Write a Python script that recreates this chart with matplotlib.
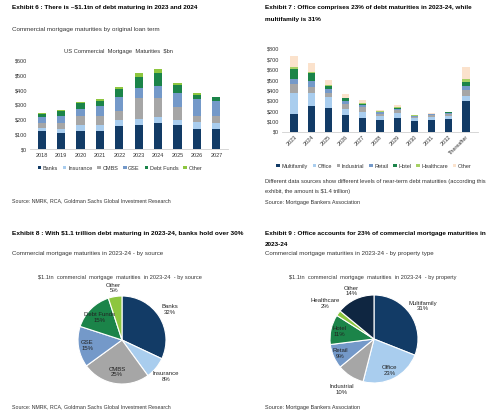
import matplotlib
matplotlib.use('Agg')
import matplotlib.pyplot as plt
import numpy as np
from matplotlib import font_manager

W, H = 500, 416
fig = plt.figure(figsize=(W/100, H/100), dpi=100)
fig.patch.set_facecolor('white')

avail = {f.name for f in font_manager.fontManager.ttflist}
NARROW = ['Liberation Sans Narrow', 'Liberation Sans', 'DejaVu Sans'] if 'Liberation Sans Narrow' in avail else ['Liberation Sans', 'DejaVu Sans']
ARIAL = ['Liberation Sans', 'DejaVu Sans']
plt.rcParams['font.family'] = ARIAL

# ---------------- data ----------------
years6 = ['2018', '2019', '2020', '2021', '2022', '2023', '2024', '2025', '2026', '2027']
banks = [120, 108, 120, 120, 154, 163, 174, 163, 138, 138]
insurance = [25, 29, 45, 45, 45, 41, 45, 34, 43, 38]
cmbs = [30, 38, 57, 63, 61, 142, 127, 86, 41, 50]
gse = [42, 52, 49, 62, 93, 73, 86, 97, 117, 102]
debt_funds = [22, 33, 46, 40, 54, 74, 88, 57, 30, 25]
other6 = [9, 5, 6, 9, 18, 25, 23, 13, 11, 4]
src_names = ['Banks', 'Insurance', 'CMBS', 'GSE', 'Debt Funds', 'Other']
yticks6 = [0, 100, 200, 300, 400, 500, 600]

years7 = ['2023', '2024', '2025', '2026', '2027', '2028', '2029', '2030', '2031', '2032', 'Thereafter']
multifamily = [172, 252, 227, 166, 131, 112, 137, 105, 112, 125, 294]
office = [202, 122, 108, 54, 64, 38, 45, 26, 32, 28, 57]
industrial = [86, 57, 39, 48, 45, 23, 26, 16, 16, 19, 55]
retail = [48, 61, 38, 26, 22, 15, 12, 6, 9, 10, 38]
hotel = [99, 73, 35, 29, 10, 7, 7, 4, 3, 6, 35]
healthcare = [16, 13, 7, 9, 9, 3, 13, 3, 4, 4, 29]
other7 = [112, 83, 48, 32, 29, 13, 19, 3, 3, 3, 121]
prop_names = ['Multifamily', 'Office', 'Industrial', 'Retail', 'Hotel', 'Healthcare', 'Other']
yticks7 = [0, 100, 200, 300, 400, 500, 600, 700, 800]

src_share = [32, 8, 25, 15, 15, 5]
prop_share = [31, 23, 10, 9, 11, 2, 14]

# ---------------- colours ----------------
NAVY = '#123b66'
LBLUE = '#a9cdee'
GRAY = '#a6a6a6'
MBLUE = '#7499c9'
GREEN = '#1b8449'
LGREEN = '#8dc63f'
HC = '#a6d064'
PEACH = '#fbe2cc'
DNAVY = '#0f2641'
TXT = '#333333'

cols6 = [NAVY, LBLUE, GRAY, MBLUE, GREEN, LGREEN]
cols7 = [NAVY, LBLUE, GRAY, MBLUE, GREEN, HC, PEACH]
pie_cols8 = [NAVY, LBLUE, GRAY, MBLUE, GREEN, LGREEN]
pie_cols9 = [NAVY, LBLUE, GRAY, MBLUE, GREEN, LGREEN, DNAVY]


def ftext(x, y, s, target_w=None, size=5, family=NARROW, **kw):
    kw.setdefault('va', 'center')
    kw.setdefault('color', TXT)
    t = fig.text(x / W, 1 - y / H, s, fontsize=size, family=family, **kw)
    if target_w:
        r = fig.canvas.get_renderer()
        w = t.get_window_extent(r).width
        t.set_fontsize(size * target_w / w)
    return t


def axes_px(left, top, right, bottom):
    return fig.add_axes([left / W, 1 - bottom / H, (right - left) / W, (bottom - top) / H])


def style_bar_axes(ax):
    for s in ['top', 'right', 'left']:
        ax.spines[s].set_visible(False)
    ax.spines['bottom'].set_color('#d0d0d0')
    ax.spines['bottom'].set_linewidth(0.6)
    ax.tick_params(axis='both', length=0, labelsize=4, colors=TXT, pad=2)
    ax.set_facecolor('none')


# ================= Exhibit 6 =================
ftext(12, 8, 'Exhibit 6 : There is ~$1.1tn of debt maturing in 2023 and 2024', 190, weight='bold', color='black')
ftext(12, 29, 'Commercial mortgage maturities by original loan term', 150)
ftext(118, 51, 'US Commercial  Mortgage  Maturities  $bn', 110, family=ARIAL, ha='center')

ax6 = axes_px(30, 61, 228, 149)
x6 = np.arange(len(years6))
series6 = [banks, insurance, cmbs, gse, debt_funds, other6]
bottom = np.zeros(len(years6))
handles6 = []
for vals, c, n in zip(series6, cols6, src_names):
    b = ax6.bar(x6, vals, 0.42, bottom=bottom, color=c, label=n)
    bottom += np.array(vals)
    handles6.append(b)
ax6.set_xlim(-0.6, len(years6) - 0.4)
ax6.set_ylim(0, 600)
ax6.set_yticks(yticks6)
ax6.set_yticklabels([f'${v}' for v in yticks6])
ax6.set_xticks(x6)
ax6.set_xticklabels(years6)
style_bar_axes(ax6)
ax6.tick_params(axis='x', pad=3)
leg6 = ax6.legend(handles6, src_names, loc='center', bbox_to_anchor=((120 - 30) / 198, -(168 - 149) / 88),
                  ncol=6, frameon=False, fontsize=4, handlelength=0.6, handleheight=0.6,
                  handletextpad=0.3, columnspacing=0.9, borderpad=0)
for t in leg6.get_texts():
    t.set_color(TXT)

ftext(12, 201, 'Source: NMRK, RCA, Goldman Sachs Global Investment Research', 161)

# ================= Exhibit 7 =================
t7a = ftext(265, 8, 'Exhibit 7 : Office comprises 23% of debt maturities in 2023-24, while', 211, weight='bold', color='black')
ftext(265, 19, 'multifamily is 31%', None, size=t7a.get_fontsize(), weight='bold', color='black')

ax7 = axes_px(282, 49, 478, 132)
x7 = np.arange(len(years7))
series7 = [multifamily, office, industrial, retail, hotel, healthcare, other7]
bottom = np.zeros(len(years7))
handles7 = []
for vals, c, n in zip(series7, cols7, prop_names):
    b = ax7.bar(x7, vals, 0.42, bottom=bottom, color=c, label=n)
    bottom += np.array(vals)
    handles7.append(b)
ax7.set_xlim(-0.7, len(years7) - 0.3)
ax7.set_ylim(0, 800)
ax7.set_yticks(yticks7)
ax7.set_yticklabels([f'${v}' for v in yticks7])
ax7.set_xticks(x7)
ax7.set_xticklabels(years7, rotation=45, ha='right', rotation_mode='anchor')
style_bar_axes(ax7)
ax7.tick_params(axis='x', pad=2)
leg7 = ax7.legend(handles7, prop_names, loc='center', bbox_to_anchor=((374 - 282) / 196, -(166 - 132) / 83),
                  ncol=7, frameon=False, fontsize=4, handlelength=0.6, handleheight=0.6,
                  handletextpad=0.3, columnspacing=0.9, borderpad=0)
for t in leg7.get_texts():
    t.set_color(TXT)

t7n = ftext(265, 182, 'Different data sources show different levels of near-term debt maturities (according this', 224)
ftext(265, 191, 'exhibit, the amount is $1.4 trillion)', None, size=t7n.get_fontsize())
ftext(265, 203, 'Source: Mortgage Bankers Association', 96)

# ================= pies =================
R = 44.0


def pie_axes(cx, cy, shares, colors, names, rfac):
    S = 140
    ax = axes_px(cx - S / 2, cy - S / 2, cx + S / 2, cy + S / 2)
    lim = (S / 2) / R
    wedges, _ = ax.pie(shares, colors=colors, startangle=90, counterclock=False,
                       wedgeprops=dict(edgecolor='white', linewidth=0.8), radius=1.0)
    ax.set_xlim(-lim, lim)
    ax.set_ylim(-lim, lim)
    ax.set_aspect('equal')
    ax.axis('off')
    for w, n, s, rf in zip(wedges, names, shares, rfac):
        th = np.deg2rad((w.theta1 + w.theta2) / 2)
        ax.text(rf * np.cos(th), rf * np.sin(th), f'{n}\n{s}%', ha='center', va='center',
                fontsize=4.3, color='#222222', linespacing=1.1, family=ARIAL)
    return ax


# ================= Exhibit 8 =================
ftext(12, 234, 'Exhibit 8 : With $1.1 trillion debt maturing in 2023-24, banks hold over 30%', 233, weight='bold', color='black')
ftext(12, 254, 'Commercial mortgage maturities in 2023-24 - by source', 154)
ftext(120, 277, '$1.1tn  commercial  mortgage  maturities  in 2023-24  - by source', 167, family=ARIAL, ha='center')
pie_axes(122, 340, src_share, pie_cols8, src_names, [1.3, 1.3, 0.74, 0.8, 0.72, 1.2])
ftext(12, 407, 'Source: NMRK, RCA, Goldman Sachs Global Investment Research', 161)

# ================= Exhibit 9 =================
t9 = ftext(265, 234, 'Exhibit 9 : Office accounts for 23% of commercial mortgage maturities in', 224, weight='bold', color='black')
ftext(265, 245, '2023-24', None, size=t9.get_fontsize(), weight='bold', color='black')
ftext(265, 254, 'Commercial mortgage maturities in 2023-24 - by property type', 173)
ftext(373, 277, '$1.1tn  commercial  mortgage  maturities  in 2023-24  - by property', 171, family=ARIAL, ha='center')
pie_axes(374, 339, prop_share, pie_cols9, prop_names, [1.34, 0.8, 1.36, 0.84, 0.8, 1.37, 1.2])
ftext(265, 407, 'Source: Mortgage Bankers Association', 96)

fig.savefig('out.png', dpi=100, facecolor='white')
